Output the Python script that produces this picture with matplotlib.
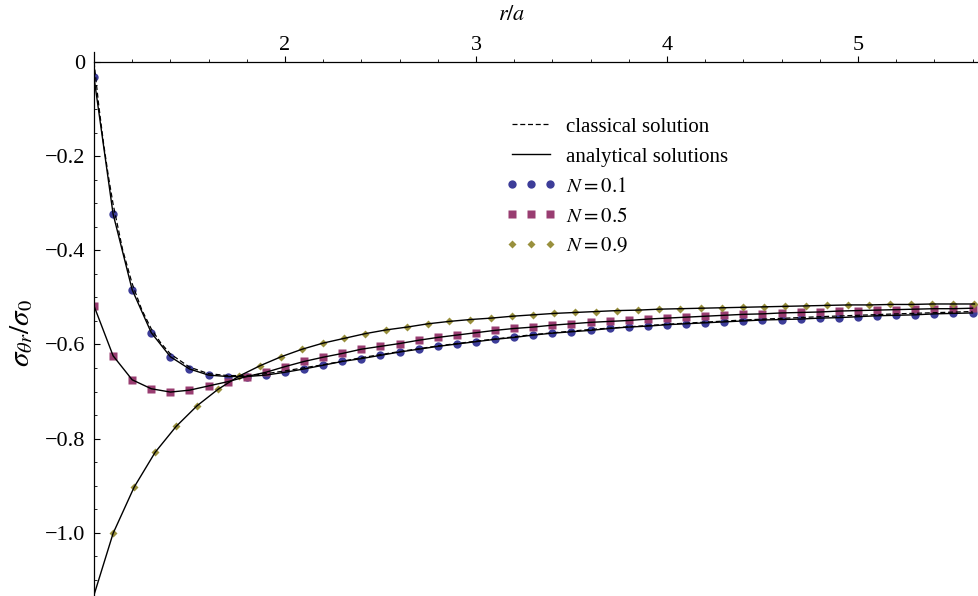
import matplotlib
matplotlib.use('Agg')
import matplotlib.pyplot as plt
from matplotlib.lines import Line2D
from matplotlib.ticker import MultipleLocator

plt.rcParams['font.family'] = ['Liberation Serif', 'DejaVu Serif']
plt.rcParams['mathtext.fontset'] = 'stix'

# sample positions r/a for the N=0.1 and N=0.5 markers
r_main = [1.0, 1.1, 1.2, 1.3, 1.4, 1.5, 1.6, 1.7, 1.8, 1.9,
          2.0, 2.1, 2.2, 2.3, 2.4, 2.5, 2.6, 2.7, 2.8, 2.9,
          3.0, 3.1, 3.2, 3.3, 3.4, 3.5, 3.6, 3.7, 3.8, 3.9,
          4.0, 4.1, 4.2, 4.3, 4.4, 4.5, 4.6, 4.7, 4.8, 4.9,
          5.0, 5.1, 5.2, 5.3, 5.4, 5.5, 5.6]

n01 = [-0.033, -0.323, -0.484, -0.575, -0.626, -0.652, -0.665, -0.668, -0.668, -0.665,
       -0.659, -0.652, -0.644, -0.636, -0.630, -0.623, -0.616, -0.610, -0.604, -0.599,
       -0.594, -0.589, -0.585, -0.580, -0.576, -0.573, -0.570, -0.566, -0.563, -0.561,
       -0.558, -0.556, -0.554, -0.552, -0.550, -0.548, -0.547, -0.546, -0.544, -0.543,
       -0.541, -0.539, -0.538, -0.537, -0.535, -0.534, -0.533]

n05 = [-0.518, -0.624, -0.675, -0.694, -0.701, -0.697, -0.688, -0.679, -0.668, -0.659,
       -0.647, -0.636, -0.627, -0.619, -0.610, -0.604, -0.598, -0.591, -0.585, -0.580,
       -0.575, -0.570, -0.566, -0.563, -0.559, -0.556, -0.553, -0.551, -0.549, -0.546,
       -0.544, -0.542, -0.540, -0.538, -0.536, -0.535, -0.533, -0.532, -0.531, -0.529,
       -0.528, -0.527, -0.526, -0.525, -0.524, -0.524, -0.523]

# N=0.9 is sampled on its own grid
r_n09 = [0.99, 1.10, 1.21, 1.32, 1.43, 1.54, 1.65, 1.76, 1.87, 1.98,
         2.09, 2.20, 2.31, 2.42, 2.53, 2.64, 2.75, 2.86, 2.97, 3.08,
         3.19, 3.30, 3.41, 3.52, 3.63, 3.74, 3.85, 3.96, 4.07, 4.18,
         4.29, 4.40, 4.51, 4.62, 4.73, 4.84, 4.95, 5.06, 5.17, 5.28,
         5.39, 5.50, 5.61]

n09 = [-1.145, -1.001, -0.903, -0.829, -0.774, -0.730, -0.695, -0.667, -0.645, -0.626,
       -0.610, -0.597, -0.587, -0.577, -0.569, -0.563, -0.556, -0.551, -0.547, -0.544,
       -0.540, -0.537, -0.534, -0.532, -0.530, -0.528, -0.527, -0.525, -0.524, -0.523,
       -0.522, -0.521, -0.520, -0.519, -0.518, -0.517, -0.516, -0.516, -0.515, -0.515,
       -0.514, -0.514, -0.514]

# classical solution (dashed)
r_cls = [1.0, 1.025, 1.05, 1.075, 1.1, 1.15, 1.2, 1.25, 1.3, 1.35, 1.4, 1.5, 1.6,
         1.7, 1.8, 1.9, 2.0, 2.2, 2.4, 2.6, 2.8, 3.0, 3.3, 3.6, 4.0, 4.4, 4.8, 5.2, 5.6]
cls = [0.0, -0.093, -0.173, -0.242, -0.302, -0.399, -0.471, -0.526, -0.567, -0.597,
       -0.620, -0.648, -0.662, -0.666, -0.666, -0.662, -0.656, -0.643, -0.628, -0.615,
       -0.603, -0.593, -0.579, -0.568, -0.557, -0.548, -0.541, -0.535, -0.530]

yticks = [0, -0.2, -0.4, -0.6, -0.8, -1.0]
ylabels = ['0', '\u22120.2', '\u22120.4', '\u22120.6', '\u22120.8', '\u22121.0']
xticks = [2, 3, 4, 5]

c_blue = (0.24, 0.24, 0.6)
c_mag = (0.6, 0.24, 0.442)
c_gold = (0.6, 0.563, 0.24)

fig = plt.figure(figsize=(9.79, 5.96), dpi=100)
ax = fig.add_axes([94 / 979, 0, 885 / 979, 544 / 596])
ax.set_xlim(1.0, 5.634)
ax.set_ylim(-1.134, 0.021)

ax.plot(r_main, n01, 'o', color=c_blue, ms=6, mec='none', zorder=2)
ax.plot(r_main, n05, 's', color=c_mag, ms=6, mec='none', zorder=2)
ax.plot(r_n09, n09, 'D', color=c_gold, ms=4.2, mec='none', zorder=2)

ax.plot(r_cls, cls, color='k', lw=0.9, ls=(0, (4, 2.2)), zorder=3)
for xs, ys in [(r_main, n01), (r_main, n05), (r_n09, n09)]:
    ax.plot(xs, ys, color='k', lw=1.0, zorder=4)

for s in ['bottom', 'right']:
    ax.spines[s].set_visible(False)
ax.spines['top'].set_position(('data', 0))
ax.spines['top'].set_linewidth(0.9)
ax.spines['left'].set_linewidth(0.9)
ax.xaxis.set_ticks_position('top')

ax.set_xticks(xticks)
ax.xaxis.set_minor_locator(MultipleLocator(0.2))
ax.set_yticks(yticks)
ax.set_yticklabels(ylabels)
ax.yaxis.set_minor_locator(MultipleLocator(0.05))
ax.tick_params(axis='x', which='major', direction='out', length=4, width=0.8, pad=1, labelsize=16)
ax.tick_params(axis='x', which='minor', direction='out', length=2.5, width=0.6)
ax.tick_params(axis='y', which='major', direction='in', length=4, width=0.8, pad=6, labelsize=16)
ax.tick_params(axis='y', which='minor', direction='in', length=2.5, width=0.6)

fig.text(512 / 979, 1 - 15 / 596, r'$r/a$', fontsize=16, ha='center', va='center')
fig.text(22 / 979, 1 - 333 / 596, r'$\sigma_{\theta r}/\sigma_0$', fontsize=21,
         rotation=90, ha='center', va='center')

handles = [
    Line2D([], [], color='k', lw=0.9, ls=(0, (4, 2.2))),
    Line2D([], [], color='k', lw=1.0),
    Line2D([], [], color=c_blue, marker='o', ls='none', ms=6, mec='none'),
    Line2D([], [], color=c_mag, marker='s', ls='none', ms=6, mec='none'),
    Line2D([], [], color=c_gold, marker='D', ls='none', ms=4, mec='none'),
]
labels = ['classical solution', 'analytical solutions',
          r'$N = 0.1$', r'$N = 0.5$', r'$N = 0.9$']
fig.legend(handles, labels, loc='upper left', bbox_to_anchor=(506 / 979, 1 - 117 / 596),
           frameon=False, fontsize=15, numpoints=3, handlelength=2.4,
           handletextpad=0.5, labelspacing=0.5, borderpad=0, borderaxespad=0)

fig.savefig('out.png', dpi=100)
